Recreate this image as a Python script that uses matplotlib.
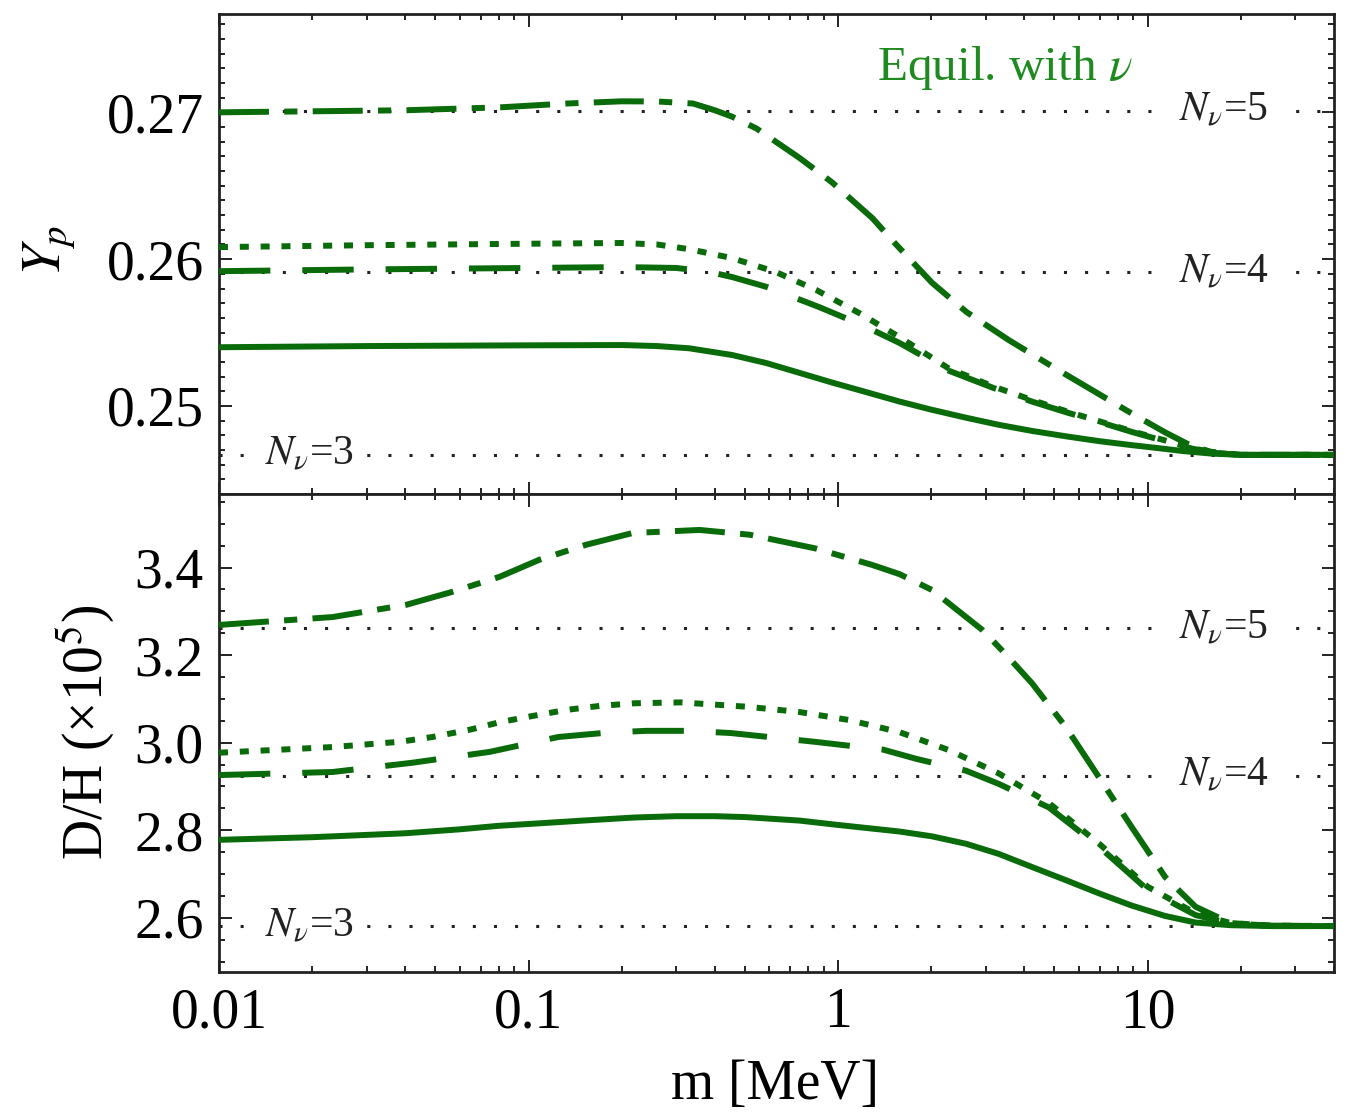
import matplotlib
matplotlib.use('Agg')
import matplotlib.pyplot as plt
from matplotlib.ticker import MultipleLocator, LogLocator, NullFormatter, FixedLocator

plt.rcParams['font.family'] = ['Liberation Serif', 'DejaVu Serif']
plt.rcParams['mathtext.fontset'] = 'stix'
plt.rcParams['lines.scale_dashes'] = False

GREEN = '#0a6b0a'

# ---- top panel: Yp vs m [MeV] ----
m_yp_solid = [0.01, 0.03, 0.1, 0.2, 0.26, 0.33, 0.455, 0.587, 0.749, 0.955, 1.23, 1.58, 2.0, 2.59, 3.3,
              4.23, 5.5, 7.0, 8.9, 10.8, 13.0, 16.0, 20.0, 40.0]
yp_solid = [0.2540, 0.25408, 0.25413, 0.25415, 0.25408, 0.25393, 0.25347, 0.25292, 0.25226, 0.25160,
            0.25095, 0.25030, 0.24975, 0.24920, 0.24872, 0.24830, 0.24792, 0.24760, 0.24733, 0.24713,
            0.24693, 0.24676, 0.24667, 0.24667]

m_yp_dot = [0.01, 0.03, 0.1, 0.2, 0.26, 0.33, 0.455, 0.63, 0.85, 1.17, 1.58, 2.28, 3.2, 4.23, 5.5, 7.0,
            9.0, 11.4, 14.0, 17.0, 20.0, 40.0]
yp_dot = [0.26082, 0.26095, 0.26105, 0.26110, 0.26100, 0.26068, 0.26007, 0.25912, 0.2579, 0.25633,
          0.25469, 0.25255, 0.2513, 0.25041, 0.24962, 0.24895, 0.24825, 0.24765, 0.2471, 0.24678,
          0.24667, 0.24667]

m_yp_dash = [0.01, 0.03, 0.1, 0.2, 0.3, 0.38, 0.455, 0.59, 0.87, 1.2, 1.58, 2.28, 3.2, 4.23, 5.5, 7.0,
             9.0, 11.4, 14.0, 17.0, 20.0, 40.0]
yp_dash = [0.25918, 0.2593, 0.2594, 0.25946, 0.2594, 0.25915, 0.25878, 0.2581, 0.25673, 0.2555, 0.25429,
           0.2524, 0.2512, 0.2503, 0.24955, 0.2489, 0.2482, 0.2476, 0.24708, 0.24677, 0.24667, 0.24667]

m_yp_dashdot = [0.01, 0.04, 0.081, 0.133, 0.2, 0.26, 0.34, 0.40, 0.455, 0.545, 0.75, 0.955, 1.29, 1.54,
                2.01, 2.6, 3.56, 5.0, 6.6, 8.87, 11.4, 13.8, 16.0, 20.0, 40.0]
yp_dashdot = [0.2700, 0.27014, 0.27034, 0.2706, 0.27075, 0.27074, 0.2706, 0.27014, 0.2697, 0.2689,
              0.2669, 0.26524, 0.2628, 0.2610, 0.2584, 0.2564, 0.25449, 0.2526, 0.2511, 0.2495, 0.2482,
              0.2473, 0.24688, 0.24667, 0.24667]

# ---- bottom panel: D/H (x1e5) vs m [MeV] ----
m_dh_solid = [0.01, 0.02, 0.04, 0.06, 0.08, 0.11, 0.15, 0.22, 0.3, 0.4, 0.5, 0.75, 1.0, 1.58, 2.01, 2.59,
              3.3, 4.23, 5.44, 6.95, 8.87, 11.4, 14.3, 18.5, 25.0, 40.0]
dh_solid = [2.778, 2.784, 2.793, 2.802, 2.810, 2.816, 2.822, 2.829, 2.832, 2.832, 2.830, 2.822, 2.812,
            2.797, 2.786, 2.769, 2.746, 2.716, 2.686, 2.656, 2.628, 2.604, 2.589, 2.583, 2.581, 2.581]

m_dh_dot = [0.01, 0.0233, 0.0384, 0.049, 0.065, 0.081, 0.105, 0.133, 0.17, 0.22, 0.31, 0.51, 0.75, 1.08,
            1.58, 2.28, 3.3, 4.8, 6.95, 10.0, 14.3, 18.5, 25.0, 40.0]
dh_dot = [2.977, 2.990, 3.002, 3.013, 3.030, 3.047, 3.062, 3.075, 3.084, 3.090, 3.092, 3.082, 3.070,
          3.052, 3.024, 2.983, 2.930, 2.862, 2.770, 2.671, 2.610, 2.588, 2.582, 2.581]

m_dh_dash = [0.01, 0.0233, 0.042, 0.075, 0.125, 0.18, 0.24, 0.33, 0.45, 0.84, 1.4, 1.79, 2.59, 3.3, 4.8,
             6.95, 10.0, 14.3, 18.5, 25.0, 40.0]
dh_dash = [2.926, 2.933, 2.954, 2.979, 3.013, 3.023, 3.027, 3.027, 3.022, 3.002, 2.984, 2.963, 2.936,
           2.906, 2.852, 2.763, 2.664, 2.606, 2.587, 2.582, 2.581]

m_dh_dashdot = [0.01, 0.0233, 0.0403, 0.057, 0.0807, 0.1085, 0.1532, 0.217, 0.357, 0.519, 0.842, 1.29,
                1.58, 2.01, 2.92, 3.46, 4.23, 5.44, 6.95, 8.87, 11.4, 14.3, 18.5, 25.0, 40.0]
dh_dashdot = [3.269, 3.287, 3.315, 3.345, 3.379, 3.418, 3.452, 3.479, 3.486, 3.475, 3.444, 3.406, 3.385,
              3.349, 3.258, 3.204, 3.136, 3.036, 2.922, 2.808, 2.693, 2.625, 2.588, 2.581, 2.581]

# reference lines for N_nu = 3, 4, 5
nnu_labels = ['3', '4', '5']
yp_ref = [0.24667, 0.2591, 0.2701]
dh_ref = [2.581, 2.924, 3.262]

fig = plt.figure(figsize=(13.5, 11.17), dpi=100)
ax1 = fig.add_axes([0.1622, 0.5577, 0.8259, 0.4298])
ax2 = fig.add_axes([0.1622, 0.1298, 0.8259, 0.4279], sharex=ax1)

lw = 4.3
styles = {
    'solid': dict(linestyle='-'),
    'dot': dict(dashes=(6.5, 8.5)),
    'dash': dict(dashes=(37, 23)),
    'dashdot': dict(dashes=(36, 11, 9.5, 11)),
}


def draw_refs(ax, levels):
    for lev, lab in zip(levels, nnu_labels):
        ax.axhline(lev, color='#222222', lw=2.2, dashes=(2.2, 13.0), zorder=1)
        if lab == '3':
            xt = 0.0141
        else:
            xt = 12.6
        ax.text(xt, lev, r'$N_\nu$=' + lab, fontsize=30, ha='left', va='center', color='#222222',
                bbox=dict(boxstyle='square,pad=0.3', fc='white', ec='none'), zorder=2)


def draw_curves(ax, curves):
    for m, v, key in curves:
        ax.plot(m, v, color=GREEN, lw=lw, zorder=3, dash_capstyle='butt',
                solid_joinstyle='round', **styles[key])


draw_refs(ax1, yp_ref)
draw_curves(ax1, [(m_yp_solid, yp_solid, 'solid'), (m_yp_dot, yp_dot, 'dot'),
                  (m_yp_dash, yp_dash, 'dash'), (m_yp_dashdot, yp_dashdot, 'dashdot')])

draw_refs(ax2, dh_ref)
draw_curves(ax2, [(m_dh_solid, dh_solid, 'solid'), (m_dh_dot, dh_dot, 'dot'),
                  (m_dh_dash, dh_dash, 'dash'), (m_dh_dashdot, dh_dashdot, 'dashdot')])

ax1.text(0.590, 0.8625, r'Equil. with $\nu$', transform=ax1.transAxes, fontsize=35.5,
         color='#1f8a1f', ha='left', va='baseline')

ax1.set_xscale('log')
ax1.set_xlim(0.01, 40)
ax1.set_ylim(0.244, 0.2767)
ax2.set_ylim(2.476, 3.568)

ax1.yaxis.set_major_locator(FixedLocator([0.25, 0.26, 0.27]))
ax1.yaxis.set_minor_locator(MultipleLocator(0.001))
ax1.set_yticklabels(['0.25', '0.26', '0.27'])
ax2.yaxis.set_major_locator(FixedLocator([2.6, 2.8, 3.0, 3.2, 3.4]))
ax2.yaxis.set_minor_locator(MultipleLocator(0.05))
ax2.set_yticklabels(['2.6', '2.8', '3.0', '3.2', '3.4'])

ax2.xaxis.set_major_locator(FixedLocator([0.01, 0.1, 1, 10]))
ax2.xaxis.set_minor_locator(LogLocator(base=10, subs=range(2, 10)))
ax2.xaxis.set_minor_formatter(NullFormatter())
ax2.set_xticklabels(['0.01', '0.1', '1', '10'])
plt.setp(ax1.get_xticklabels(), visible=False)

for ax in (ax1, ax2):
    ax.tick_params(which='both', direction='in', top=True, right=True, width=1.4, colors='#222222')
    ax.tick_params(which='major', length=9, pad=11, labelsize=40, labelcolor='black')
    ax.tick_params(which='minor', length=4.5)
    for sp in ax.spines.values():
        sp.set_linewidth(2.0)
        sp.set_color('#222222')

fig.text(50 / 1350, 1 - 250 / 1117, r'$Y_p$', fontsize=40, rotation=90, ha='center', va='center')
fig.text(85 / 1350, 1 - 732 / 1117, r'D/H (×10$^5$)', fontsize=40, rotation=90, ha='center', va='center')
fig.text(775 / 1350, 1 - 1085 / 1117, 'm [MeV]', fontsize=40, ha='center', va='center')

fig.savefig('out.png', dpi=100)
